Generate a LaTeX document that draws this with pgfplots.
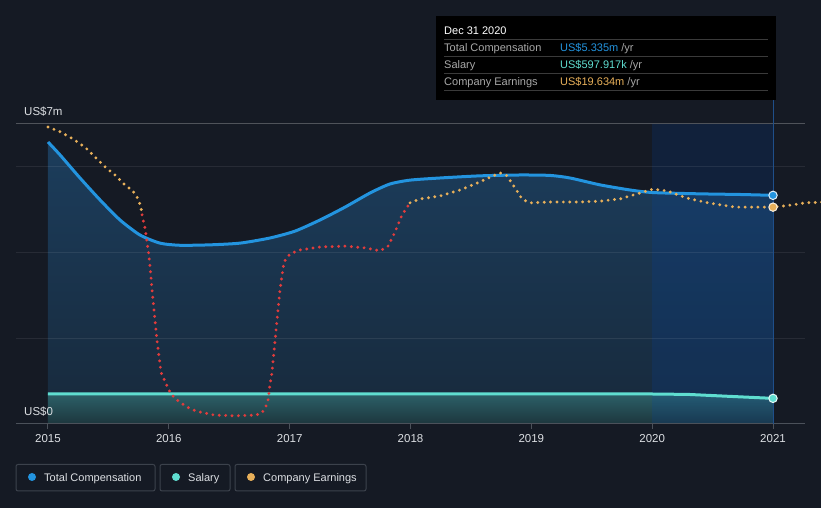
\documentclass[border=0pt]{standalone}
\usepackage{pgfplots}
\pgfplotsset{compat=1.18}
\usepackage{fontspec}
\setmainfont{Liberation Sans}
\definecolor{bg}{HTML}{151A24}
\definecolor{axisc}{HTML}{4B515A}
\definecolor{txt}{HTML}{DCDFE3}
\definecolor{comp}{HTML}{2394DF}
\definecolor{comptop}{HTML}{1C3D5C}
\definecolor{compbot}{HTML}{17293B}
\definecolor{sal}{HTML}{5FDDD0}
\definecolor{saltop}{HTML}{2C6068}
\definecolor{salbot}{HTML}{1D363D}
\definecolor{earn}{HTML}{E8B05A}
\definecolor{neg}{HTML}{E03C3C}
\definecolor{hl}{HTML}{0046B8}
\definecolor{hlline}{HTML}{1F4F8A}
\definecolor{ttgray}{HTML}{A8A8A8}
\definecolor{ttline}{HTML}{3A3A3A}
\definecolor{legbord}{HTML}{3C424C}

\pgfplotsset{
  layers/fills under/.define layer set={
    axis background,pre main,axis grid,main,axis ticks,axis lines,
    axis tick labels,axis descriptions,axis foreground}{},
}

\begin{document}
\begin{tikzpicture}[x=1bp,y=1bp]
\begin{axis}[
  set layers=fills under,
  at={(16bp,84bp)}, anchor=south west,
  scale only axis, width=789bp, height=300bp,
  xmin=2014.7352, xmax=2021.2648, ymin=0, ymax=7,
  axis x line*=bottom, axis y line*=left,
  x axis line style={draw=axisc, line width=1bp, -},
  y axis line style={draw=none},
  xtick={2015,2016,2017,2018,2019,2020,2021},
  xticklabels={2015,2016,2017,2018,2019,2020,2021},
  tick align=outside,
  major tick length=5bp,
  x tick style={draw=axisc, line width=1bp},
  xticklabel style={font=\fontsize{11.5bp}{13bp}\selectfont, text=txt, anchor=base, inner sep=0pt, yshift=-14bp},
  ytick={0,2,4,6},
  yticklabels={US\$0,,,},
  extra y ticks={7},
  extra y tick labels={US\$7m},
  extra y tick style={grid style={draw=white, draw opacity=0.25, line width=1bp}},
  y tick style={draw=none},
  yticklabel style={font=\fontsize{11.5bp}{13bp}\selectfont, text=txt, anchor=base west, inner sep=0pt, xshift=13bp, yshift=8bp},
  ymajorgrids, grid style={draw=white, draw opacity=0.08, line width=1bp},
  clip=false,
]
\begin{pgfonlayer}{axis background}
\fill[bg] (rel axis cs:-0.02028,-0.28) rectangle (rel axis cs:1.02028,1.41333);
\end{pgfonlayer}
% total compensation area
\addplot[on layer=pre main, draw=none, top color=comptop, bottom color=compbot] coordinates {
 (2015.000,6.58) (2015.099,6.28) (2015.265,5.74) (2015.430,5.23) (2015.596,4.76)
 (2015.761,4.41) (2015.927,4.22) (2016.092,4.17) (2016.341,4.18) (2016.589,4.22)
 (2016.837,4.34) (2017.044,4.50) (2017.251,4.76) (2017.458,5.06) (2017.665,5.39)
 (2017.830,5.60) (2017.996,5.69) (2018.244,5.74) (2018.575,5.79) (2018.906,5.81)
 (2019.154,5.80) (2019.320,5.74) (2019.568,5.58) (2019.817,5.46) (2020.007,5.40)
 (2020.396,5.37) (2020.727,5.355) (2021.000,5.335)} \closedcycle;
% salary area
\addplot[on layer=pre main, draw=none, top color=saltop, bottom color=salbot] coordinates {
 (2015,0.70) (2016,0.70) (2017,0.70) (2018,0.70) (2019,0.70) (2020,0.70)
 (2020.3,0.69) (2020.6,0.65) (2021,0.598)} \closedcycle;
% highlighted last year
\addplot[on layer=pre main, draw=none, fill=hl, fill opacity=0.16] coordinates {
 (2020,7) (2021,7)} \closedcycle;
\draw[hlline, line width=1bp] (axis cs:2021,0) -- (axis cs:2021,7.56);
% salary line
\addplot[sal, line width=3bp] coordinates {
 (2015,0.70) (2016,0.70) (2017,0.70) (2018,0.70) (2019,0.70) (2020,0.70)
 (2020.3,0.69) (2020.6,0.65) (2021,0.598)};
% total compensation line
\addplot[comp, line width=3bp, smooth, tension=0.4] coordinates {
 (2015.000,6.58) (2015.099,6.28) (2015.265,5.74) (2015.430,5.23) (2015.596,4.76)
 (2015.761,4.41) (2015.927,4.22) (2016.092,4.17) (2016.341,4.18) (2016.589,4.22)
 (2016.837,4.34) (2017.044,4.50) (2017.251,4.76) (2017.458,5.06) (2017.665,5.39)
 (2017.830,5.60) (2017.996,5.69) (2018.244,5.74) (2018.575,5.79) (2018.906,5.81)
 (2019.154,5.80) (2019.320,5.74) (2019.568,5.58) (2019.817,5.46) (2020.007,5.40)
 (2020.396,5.37) (2020.727,5.355) (2021.000,5.335)};
% company earnings (dotted), scaled to the plot
\addplot[earn, line width=3.2bp, line cap=round, dash pattern=on 0pt off 6.4bp] coordinates {
 (2015.000,6.93) (2015.108,6.81) (2015.207,6.65) (2015.306,6.46) (2015.389,6.23)
 (2015.472,6.00) (2015.563,5.79) (2015.646,5.55) (2015.695,5.46) (2015.728,5.34)
 (2015.753,5.20) (2015.770,5.04) (2015.778,4.88)};
\addplot[neg, line width=3.2bp, line cap=round, dash pattern=on 0pt off 6.4bp] coordinates {
 (2015.778,4.88) (2015.803,4.57) (2015.819,4.25) (2015.836,3.92) (2015.869,2.89)
 (2015.902,1.96) (2015.935,1.21) (2015.968,1.00) (2015.993,0.84) (2016.018,0.70)
 (2016.059,0.58) (2016.101,0.49) (2016.150,0.40) (2016.200,0.33) (2016.258,0.28)
 (2016.374,0.21) (2016.548,0.19) (2016.721,0.21) (2016.771,0.26) (2016.788,0.35)
 (2016.804,0.42) (2016.821,0.56) (2016.837,0.91) (2016.854,1.21) (2016.887,2.19)
 (2016.920,3.13) (2016.953,3.78) (2017.003,3.97) (2017.086,4.06) (2017.251,4.13)
 (2017.458,4.15) (2017.623,4.11) (2017.748,4.04) (2017.814,4.15) (2017.872,4.48)
 (2017.930,4.88) (2017.996,5.16)};
\addplot[earn, line width=3.2bp, line cap=round, dash pattern=on 0pt off 6.4bp] coordinates {
 (2017.996,5.16) (2018.079,5.25) (2018.244,5.32) (2018.410,5.46) (2018.575,5.65)
 (2018.741,5.86) (2018.799,5.79) (2018.865,5.51) (2018.923,5.25) (2018.989,5.16)
 (2019.154,5.18) (2019.403,5.18) (2019.568,5.20) (2019.733,5.25) (2019.899,5.39)
 (2020.007,5.48) (2020.123,5.44) (2020.288,5.27) (2020.462,5.16) (2020.686,5.06)
 (2021.000,5.06) (2021.157,5.11) (2021.265,5.16) (2021.439,5.18)};
% end markers
\addplot[only marks, mark=*, mark size=4.2bp, mark options={fill=comp, draw=white!85!comp, line width=1bp}] coordinates {(2021,5.335)};
\addplot[only marks, mark=*, mark size=4.2bp, mark options={fill=sal, draw=white!85!sal, line width=1bp}] coordinates {(2021,0.598)};
\addplot[only marks, mark=*, mark size=4.2bp, mark options={fill=earn, draw=white!80!earn, line width=1bp}] coordinates {(2021,5.06)};
\end{axis}
% tooltip
\fill[black] (436,492) rectangle (776,408);
\begin{scope}[font=\fontsize{11bp}{13bp}\selectfont, inner sep=0pt]
\node[anchor=base west, text=white] at (444,473) {Dec 31 2020};
\foreach \yy in {468,451,434,417} {\draw[ttline, line width=1bp] (444,\yy) -- (768,\yy);}
\node[anchor=base west, text=ttgray] at (444,456) {Total Compensation};
\node[anchor=base west, text=ttgray] at (444,439) {Salary};
\node[anchor=base west, text=ttgray] at (444,422) {Company Earnings};
\node[anchor=base west] at (560,456) {\textcolor{comp}{US\$5.335m} \textcolor{ttgray}{/yr}};
\node[anchor=base west] at (560,439) {\textcolor{sal}{US\$597.917k} \textcolor{ttgray}{/yr}};
\node[anchor=base west] at (560,422) {\textcolor{earn}{US\$19.634m} \textcolor{ttgray}{/yr}};
\end{scope}
% legend
\begin{scope}[font=\fontsize{11bp}{13bp}\selectfont, inner sep=0pt]
\draw[legbord, line width=1bp, rounded corners=2bp] (16,43.5) rectangle (155,17);
\fill[comp] (32,31) circle (4bp);
\node[anchor=base west, text=txt] at (44,26.5) {Total Compensation};
\draw[legbord, line width=1bp, rounded corners=2bp] (160,43.5) rectangle (230,17);
\fill[sal] (176,31) circle (4bp);
\node[anchor=base west, text=txt] at (188,26.5) {Salary};
\draw[legbord, line width=1bp, rounded corners=2bp] (235,43.5) rectangle (366,17);
\fill[earn] (251,31) circle (4bp);
\node[anchor=base west, text=txt] at (263,26.5) {Company Earnings};
\end{scope}
\pgfresetboundingbox
\useasboundingbox (0,0) rectangle (821,508);
\end{tikzpicture}
\end{document}
